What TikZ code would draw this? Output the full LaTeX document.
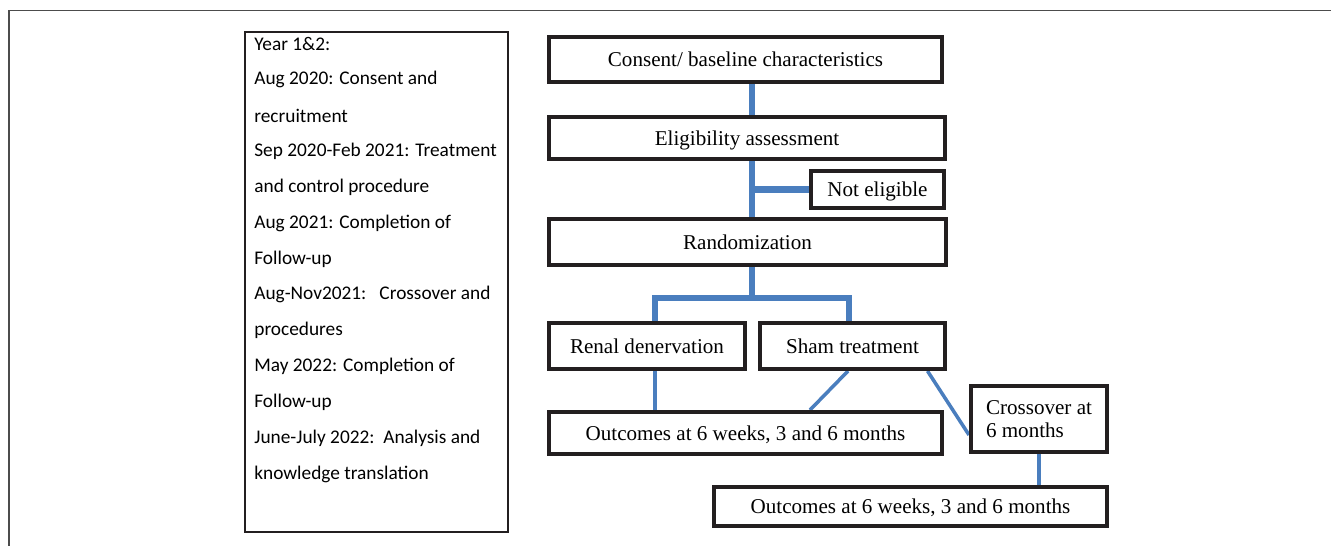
\documentclass[tikz,border=0pt]{standalone}
\usepackage{fontspec}
\setmainfont{Liberation Serif}
\newfontfamily\calibri{Carlito}
\usetikzlibrary{backgrounds}

\definecolor{linkblue}{RGB}{74,126,190}
\definecolor{boxgray}{RGB}{35,31,32}

\tikzset{
	stage/.style={draw=boxgray, line width=2pt, inner sep=0pt, text depth=0pt, font=\fontsize{12}{13.6}\selectfont},
	link/.style={draw=linkblue, line width=3.6pt},
	thinlink/.style={draw=linkblue, line width=2pt},
	tlline/.style={anchor=west, inner sep=0pt, font=\calibri\fontsize{11}{13}\selectfont}
}

\begin{document}
\begin{tikzpicture}[x=0.02cm, y=-0.02cm]
\useasboundingbox (0,0) rectangle (1331,546);

% Marco
\draw[black!70, line width=0.85pt] (1331,10.5) -- (9,10.5) -- (9,546);

% Cronograma
\node[draw=boxgray, line width=0.85pt, minimum width=5.27cm, minimum height=10.01cm, inner sep=0pt] (timeline) at (376.5,282) {};
	\foreach \linea [count=\i from 0] in {{Year 1\&2:}, {Aug 2020: Consent and}, {recruitment},
		{Sep 2020-Feb 2021: Treatment}, {and control procedure}, {Aug 2021: Completion of},
		{Follow-up}, {Aug-Nov2021:\ \ \ Crossover and}, {procedures}, {May 2022: Completion of},
		{Follow-up}, {June-July 2022:\ \ Analysis and}, {knowledge translation}}
		\node[tlline] (tl\i) at (254,44+35.85*\i) {\linea};

% Diagrama de flujo
\node[stage, minimum width=7.87cm, minimum height=0.91cm] (consent) at (745.5,59.5) {Consent/ baseline characteristics};
\node[stage, minimum width=7.93cm, minimum height=0.85cm] (elig) at (747,138) {Eligibility assessment};
\node[stage, minimum width=2.67cm, minimum height=0.75cm] (noteli) at (877.5,189.5) {Not eligible};
\node[stage, minimum width=7.95cm, minimum height=0.93cm] (random) at (747.5,242) {Randomization};
\node[stage, minimum width=3.93cm, minimum height=0.93cm] (renal) at (647,346) {Renal denervation};
\node[stage, minimum width=3.71cm, minimum height=0.93cm] (sham) at (852.5,346) {Sham treatment};
\node[stage, minimum width=7.87cm, minimum height=0.85cm] (out1) at (745.5,433) {Outcomes at 6 weeks, 3 and 6 months};
\node[stage, minimum width=2.73cm, minimum height=1.33cm, align=left] (cross) at (1039,419) {Crossover at\\6 months};
\node[stage, minimum width=7.87cm, minimum height=0.79cm] (out2) at (910.5,506.5) {Outcomes at 6 weeks, 3 and 6 months};

\coordinate (spine) at (752,0);
\coordinate (lsplit) at (655,298);
\coordinate (rsplit) at (849,298);

\begin{scope}[on background layer]
	\draw[link] (spine |- consent.south) -- (spine |- elig.north);
	\draw[link] (spine |- elig.south) -- (spine |- random.north);
	\draw[link] (spine |- noteli.west) -- (noteli.west);
	\draw[link] (spine |- random.south) -- (spine |- lsplit);
	\draw[link] (lsplit |- renal.north) -- (lsplit) -- (rsplit) -- (rsplit |- sham.north);

	\draw[thinlink] (lsplit |- renal.south) -- (lsplit |- out1.north);
	\draw[thinlink] ([xshift=-0.09cm]sham.south) -- ([xshift=1.29cm]out1.north);
	\draw[thinlink] ([xshift=1.5cm]sham.south) -- ([yshift=-0.32cm]cross.west);
	\draw[thinlink] (cross.south) -- (cross.south |- out2.north);
\end{scope}
\end{tikzpicture}
\end{document}
